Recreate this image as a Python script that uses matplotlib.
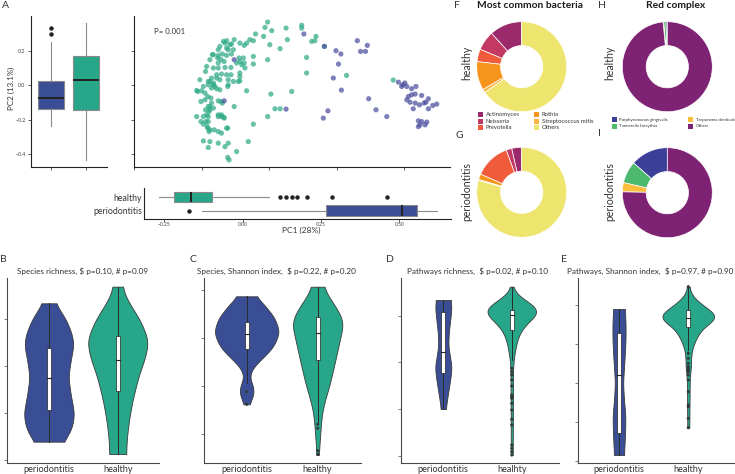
import numpy as np
import matplotlib
matplotlib.use("Agg")
import matplotlib.pyplot as plt
from matplotlib.patches import Rectangle

plt.rcParams['font.family'] = ['Lato', 'DejaVu Sans']

# ---------------- DATA ----------------
# Panel A: PCoA scores (PC1, PC2)
HEALTHY_PCOA = [
    (-0.006, 0.365), (-0.016, 0.334), (0.009, 0.315), (-0.051, 0.296), (-0.021, 0.282), (-0.072, 0.263),
    (-0.059, 0.257), (-0.084, 0.243), (-0.093, 0.230), (0.002, 0.234), (0.040, 0.211), (-0.130, 0.263),
    (-0.158, 0.257), (-0.164, 0.243), (-0.140, 0.238), (-0.183, 0.224), (-0.158, 0.214), (-0.189, 0.205),
    (-0.152, 0.205), (-0.211, 0.176), (-0.189, 0.172), (-0.174, 0.180), (-0.158, 0.172), (-0.140, 0.180),
    (-0.191, 0.157), (-0.179, 0.147), (-0.167, 0.137), (-0.112, 0.157), (-0.096, 0.157), (-0.059, 0.166),
    (-0.121, 0.128), (-0.102, 0.118), (-0.093, 0.128), (-0.059, 0.122), (-0.006, 0.147), (-0.232, 0.108),
    (-0.207, 0.099), (-0.189, 0.099), (-0.164, 0.102), (-0.142, 0.102), (-0.236, 0.079), (-0.177, 0.064),
    (-0.158, 0.060), (-0.142, 0.060), (-0.109, 0.050), (-0.214, 0.041), (-0.195, 0.041), (-0.183, 0.031),
    (-0.220, 0.021), (-0.207, 0.012), (-0.226, 0.002), (-0.244, -0.008), (-0.201, -0.008), (-0.214, -0.017),
    (-0.195, -0.021), (-0.154, -0.008), (-0.115, 0.021), (-0.109, 0.025), (-0.152, 0.031), (-0.265, -0.037),
    (-0.251, -0.033), (-0.238, -0.046), (-0.228, -0.066), (-0.216, -0.075), (-0.084, -0.033), (0.006, -0.052),
    (-0.253, -0.095), (-0.238, -0.085), (-0.214, -0.104), (-0.179, -0.095), (-0.174, -0.104), (-0.189, -0.091),
    (-0.130, -0.124), (0.021, -0.137), (0.040, -0.137), (-0.220, -0.124), (-0.207, -0.133), (-0.236, -0.143),
    (-0.223, -0.153), (-0.189, -0.172), (-0.177, -0.182), (-0.167, -0.191), (-0.232, -0.172), (-0.226, -0.182),
    (-0.269, -0.182), (-0.253, -0.211), (-0.226, -0.211), (-0.244, -0.226), (-0.228, -0.249), (-0.220, -0.259),
    (-0.223, -0.269), (-0.204, -0.259), (-0.189, -0.269), (-0.177, -0.278), (-0.154, -0.249), (-0.059, -0.226),
    (-0.006, -0.182), (-0.244, -0.323), (-0.220, -0.327), (-0.226, -0.361), (-0.189, -0.336), (-0.152, -0.336),
    (-0.078, -0.327), (-0.164, -0.356), (-0.121, -0.385), (-0.154, -0.419), (-0.149, -0.433),
    (-0.269, -0.031), (-0.257, 0.031), (-0.226, 0.021), (-0.207, 0.002), (-0.195, 0.060), (-0.226, -0.124),
    (-0.220, -0.143), (-0.244, -0.182), (-0.235, -0.211), (-0.230, -0.240), (-0.189, -0.182), (-0.177, -0.172),
    (-0.168, -0.186), (-0.158, -0.249), (-0.207, 0.176), (-0.189, 0.128), (-0.170, 0.253), (-0.146, 0.234),
    (-0.133, 0.205), (-0.109, 0.137), (-0.183, -0.027), (-0.152, 0.002), (-0.133, 0.021), (-0.109, 0.070),
    (-0.090, 0.099), (-0.109, 0.243), (-0.220, 0.147),
    (0.062, 0.330), (0.120, 0.346), (0.120, 0.330), (0.067, 0.263), (0.173, 0.282), (0.169, 0.257),
    (0.157, 0.253), (0.204, 0.224), (0.138, 0.160), (0.138, 0.070), (0.286, 0.056), (0.083, -0.037),
    (0.459, 0.029),
]
PERIO_PCOA = [
    (0.128, 0.296), (0.326, 0.257), (0.363, 0.230), (0.338, 0.195), (0.356, 0.195), (0.247, 0.199),
    (0.265, 0.180), (0.256, 0.122), (0.237, 0.041), (0.267, -0.029), (0.368, -0.079), (0.478, 0.017),
    (0.494, 0.002), (0.502, 0.012), (0.509, -0.008), (0.490, -0.008), (0.527, -0.021), (0.543, -0.008),
    (0.515, -0.066), (0.527, -0.056), (0.540, -0.052), (0.509, -0.085), (0.521, -0.099), (0.564, -0.060),
    (0.589, -0.079), (0.580, -0.099), (0.540, -0.104), (0.556, -0.114), (0.573, -0.104), (0.605, -0.118),
    (0.620, -0.110), (0.533, -0.137), (0.589, -0.137), (0.395, -0.143), (0.435, -0.182), (0.217, -0.149),
    (0.200, -0.191), (0.062, -0.139), (0.552, -0.207), (0.564, -0.211), (0.583, -0.214), (0.558, -0.230),
    (0.577, -0.230), (0.552, -0.240), (0.204, 0.224), (-0.130, 0.147), (-0.167, -0.091),
]
# Box statistics (q1, median, q3, whisker low, whisker high, fliers)
PC2_PERIO_BOX = (-0.137, -0.072, 0.023, -0.236, 0.247, [0.293, 0.332])
PC2_HEALTHY_BOX = (-0.145, 0.027, 0.166, -0.433, 0.357, [])
PC1_HEALTHY_BOX = (-0.218, -0.166, -0.097, -0.268, 0.083, [0.120, 0.137, 0.157, 0.172, 0.205, 0.286, 0.460])
PC1_PERIO_BOX = (0.266, 0.507, 0.555, -0.131, 0.619, [-0.171])
GROUPS = ['periodontitis', 'healthy']
PC2_TICKS = [-0.4, -0.2, 0.0, 0.2]
PC2_TICKLABELS = ['\u22120.4', '\u22120.2', '0.0', '0.2']
PC1_TICKS = [-0.25, 0.0, 0.25, 0.5]
PC1_TICKLABELS = ['\u22120.25', '0.00', '0.25', '0.50']

# Panels B-E: violin density profiles (value, relative density) + inner box stats (q1, med, q3, lo, hi)
B_PERIO_Y = [216.7, 209.6, 199.0, 183.0, 172.4, 156.4, 138.3, 119.2, 100.0, 87.2, 76.6, 69.5]
B_PERIO_D = [0.13, 0.22, 0.35, 0.47, 0.50, 0.44, 0.39, 0.44, 0.51, 0.48, 0.40, 0.28]
B_PERIO_BOX = (103.2, 136.9, 169.5, 69.5, 216.7)
B_HEALTHY_Y = [234.4, 223.4, 211.4, 199.0, 183.0, 175.9, 159.9, 138.6, 113.8, 92.6, 71.3, 56.4]
B_HEALTHY_D = [0.093, 0.16, 0.30, 0.45, 0.58, 0.617, 0.56, 0.417, 0.30, 0.227, 0.18, 0.17]
B_HEALTHY_BOX = (123.7, 156.4, 182.3, 56.4, 234.4)

C_PERIO_Y = [3.869, 3.688, 3.417, 3.131, 2.896, 2.750, 2.604, 2.438, 2.292, 2.167, 2.042, 1.917, 1.771, 1.619]
C_PERIO_D = [0.18, 0.35, 0.55, 0.64, 0.56, 0.47, 0.33, 0.17, 0.075, 0.06, 0.11, 0.147, 0.12, 0.05]
C_PERIO_BOX = (2.771, 3.077, 3.327, 2.056, 3.869)
C_PERIO_OUT = [1.881, 1.619]
C_HEALTHY_Y = [4.069, 3.854, 3.625, 3.458, 3.306, 2.958, 2.402, 1.985, 1.708, 1.431, 1.015, 0.75, 0.5625]
C_HEALTHY_D = [0.11, 0.22, 0.37, 0.46, 0.507, 0.433, 0.317, 0.223, 0.143, 0.083, 0.05, 0.035, 0.02]
C_HEALTHY_BOX = (2.542, 3.098, 3.431, 1.256, 4.069)
C_HEALTHY_OUT = [1.202, 1.119, 0.652, 0.577]

D_PERIO_Y = [533.4, 516.3, 490.6, 462.9, 437.2, 415.8, 390.2, 362.4, 330.4, 300.4]
D_PERIO_D = [0.15, 0.167, 0.14, 0.11, 0.10, 0.13, 0.17, 0.14, 0.09, 0.05]
D_PERIO_BOX = (378.0, 421.6, 508.4, 300.4, 533.4)
D_HEALTHY_Y = [561.8, 544.1, 527.0, 508.4, 487.0, 465.6, 444.3, 426.5, 405.2, 383.8, 202.1]
D_HEALTHY_D = [0.02, 0.067, 0.40, 0.62, 0.33, 0.167, 0.10, 0.07, 0.035, 0.025, 0.02]
D_HEALTHY_BOX = (469.3, 501.3, 512.0, 405.2, 561.8)
D_HEALTHY_OUT = [387.4, 380.1, 373.1, 362.4, 349.6, 330.4, 326.7, 323.3, 312.6, 298.3, 278.4, 266.2,
                 223.5, 216.5, 209.2, 202.1]

E_PERIO_Y = [3.897, 3.486, 3.057, 2.586, 1.995, 1.558, 1.129, 0.658, 0.144]
E_PERIO_D = [0.117, 0.133, 0.13, 0.11, 0.08, 0.10, 0.13, 0.12, 0.10]
E_PERIO_BOX = (0.717, 2.201, 3.272, 0.144, 3.897)
E_HEALTHY_Y = [4.470, 4.257, 4.0, 3.699, 3.401, 3.057, 2.843, 2.586, 2.380, 2.201, 1.558, 0.846]
E_HEALTHY_D = [0.02, 0.05, 0.28, 0.64, 0.27, 0.127, 0.07, 0.05, 0.06, 0.03, 0.025, 0.02]
E_HEALTHY_BOX = (3.442, 3.658, 3.871, 2.843, 4.470)
E_HEALTHY_OUT = [4.470, 2.758, 2.630, 2.501, 2.414, 2.373, 2.329, 2.285, 2.201, 2.072, 1.771, 1.429,
                 1.386, 1.087, 0.846]

B_TICKS = [50, 100, 150, 200]
C_TICKS = [1, 2, 3, 4]
D_TICKS = [200, 300, 400, 500]
E_TICKS = [0, 1, 2, 3, 4]

# Panels F-I: relative abundance (%)
BACT_NAMES = ['Actinomyces', 'Neisseria', 'Prevotella', 'Rothia', 'Streptococcus mitis', 'Others']
BACT_HEALTHY = [11.7, 7.0, 4.5, 10.3, 1.2, 65.3]
BACT_PERIO = [3.6, 2.0, 12.8, 2.0, 0.4, 79.2]
RED_NAMES = ['Porphyromonas gingivalis', 'Tannerella forsythia', 'Treponema denticola', 'Others']
RED_HEALTHY = [0.5, 0.8, 0.2, 98.5]
RED_PERIO = [13.5, 7.9, 3.3, 75.3]

# ---------------- STYLE ----------------
PERIO_C = '#3A4E95'
HEALTHY_C = '#27A68A'
SC_GREEN = '#2FAA86'
SC_BLUE = '#4B4E9F'
BACT_COLORS = ['#9B2A6C', '#C23A63', '#EF5B3B', '#F7941D', '#FBB540', '#EDE56D']
RED_COLORS = ['#3B3F98', '#4DB96E', '#FBBD3B', '#7E2274']
TXT = '#333333'

W, H = 735, 474
fig = plt.figure(figsize=(7.35, 4.74), dpi=100)


def rect(l, t, r, b):
    return [l / W, 1 - b / H, (r - l) / W, (b - t) / H]


def fx(x):
    return x / W


def fy(y):
    return 1 - y / H


def style_axes(ax, spine_c='#555555'):
    for s in ['top', 'right']:
        ax.spines[s].set_visible(False)
    for s in ['left', 'bottom']:
        ax.spines[s].set_color(spine_c)
        ax.spines[s].set_linewidth(0.8)
    ax.tick_params(length=2.2, width=0.5, color=spine_c, pad=1.5)


def box_stats(b):
    q1, med, q3, lo, hi, fl = b
    return dict(q1=q1, med=med, q3=q3, whislo=lo, whishi=hi, fliers=fl)


box_kw = dict(patch_artist=True, showcaps=False,
              boxprops=dict(edgecolor='#8a8a8a', linewidth=0.8),
              medianprops=dict(color='#222222', linewidth=1.4),
              whiskerprops=dict(color='#8a8a8a', linewidth=0.8),
              flierprops=dict(marker='o', markerfacecolor='#222222', markeredgecolor='none', markersize=3.2))

# ---- Panel A: left box (PC2) ----
axL = fig.add_axes(rect(30.7, 16, 107, 167))
bp = axL.bxp([box_stats(PC2_PERIO_BOX), box_stats(PC2_HEALTHY_BOX)], positions=[1, 2], widths=0.74, **box_kw)
for patch, c in zip(bp['boxes'], [PERIO_C, HEALTHY_C]):
    patch.set_facecolor(c)
axL.set_xlim(0.42, 2.6)
axL.set_ylim(-0.474, 0.40)
axL.set_xticks([1, 2])
axL.set_xticklabels([])
axL.set_yticks(PC2_TICKS)
axL.set_yticklabels(PC2_TICKLABELS, fontsize=3.8, color='#444444')
style_axes(axL, '#222222')
fig.text(fx(11), fy(88), 'PC2 (13.1%)', rotation=90, ha='center', va='center', fontsize=5.8, color=TXT)

# ---- Panel A: scatter ----
axS = fig.add_axes(rect(133.7, 16, 450, 167))
hp = np.array(HEALTHY_PCOA)
pp = np.array(PERIO_PCOA)
axS.scatter(hp[:, 0], hp[:, 1], s=14, color=SC_GREEN, alpha=0.72, edgecolors='none')
axS.scatter(pp[:, 0], pp[:, 1], s=14, color=SC_BLUE, alpha=0.72, edgecolors='none')
axS.set_xlim(-0.502, 0.669)
axS.set_ylim(-0.474, 0.40)
axS.set_xticks([-0.5, -0.25, 0, 0.25, 0.5])
axS.set_xticklabels([])
axS.set_yticks(PC2_TICKS)
axS.set_yticklabels([])
style_axes(axS, '#222222')
fig.text(fx(154), fy(31.7), 'P= 0.001', ha='left', va='center', fontsize=5.6, color=TXT)

# ---- Panel A: bottom box (PC1) ----
axB = fig.add_axes(rect(144.3, 188, 450.7, 219))
hb = [box_stats(PC1_PERIO_BOX), box_stats(PC1_HEALTHY_BOX)]
try:
    bp2 = axB.bxp(hb, positions=[1, 2], widths=0.78, orientation='horizontal', **box_kw)
except TypeError:
    bp2 = axB.bxp(hb, positions=[1, 2], widths=0.78, vert=False, **box_kw)
for patch, c in zip(bp2['boxes'], [PERIO_C, HEALTHY_C]):
    patch.set_facecolor(c)
axB.set_ylim(0.38, 2.69)
axB.set_xlim(-0.314, 0.664)
axB.set_yticks([1, 2])
axB.set_yticklabels(GROUPS, fontsize=6.3, color=TXT)
axB.set_xticks(PC1_TICKS)
axB.set_xticklabels(PC1_TICKLABELS, fontsize=3.6, color='#444444')
style_axes(axB, '#222222')
axB.tick_params(axis='y', length=0)
axB.tick_params(axis='x', pad=0.6, length=1.8)
fig.text(fx(301), fy(230.5), 'PC1 (28%)', ha='center', va='center', fontsize=6.0, color=TXT)


# ---- Panels B-E: violins ----
def smooth_profile(ys, ds, n=300, frac=0.035):
    ys = np.asarray(ys, float)
    ds = np.asarray(ds, float)
    o = np.argsort(ys)
    ys, ds = ys[o], ds[o]
    g = np.linspace(ys[0], ys[-1], n)
    d = np.interp(g, ys, ds)
    sig = max(1.0, frac * n)
    k = np.arange(-int(3 * sig), int(3 * sig) + 1)
    ker = np.exp(-0.5 * (k / sig) ** 2)
    ker /= ker.sum()
    pad = len(k) // 2
    dp = np.concatenate([np.full(pad, d[0]), d, np.full(pad, d[-1])])
    ds2 = np.convolve(dp, ker, mode='valid')
    return g, ds2


def violin(ax, pos, ys, ds, color, box, outliers=None, scale=0.72, bw=0.06):
    g, d = smooth_profile(ys, ds)
    half = d * scale
    ax.fill_betweenx(g, pos - half, pos + half, facecolor=color, edgecolor='#3a3a3a', linewidth=0.6, zorder=1)
    q1, med, q3, lo, hi = box
    ax.plot([pos, pos], [lo, hi], color='#2a2a2a', linewidth=0.7, zorder=2)
    ax.add_patch(Rectangle((pos - bw / 2, q1), bw, q3 - q1, facecolor='white', edgecolor='#222222',
                           linewidth=0.5, zorder=3))
    ax.plot([pos - bw / 2, pos + bw / 2], [med, med], color='#222222', linewidth=0.8, zorder=4)
    if outliers:
        ax.scatter([pos] * len(outliers), outliers, s=5, color='#2f3a3a', edgecolors='none', zorder=5)


def violin_panel(px, xlim, ylim, ticks, labels, groups):
    ax = fig.add_axes(rect(*px))
    for i, gdef in enumerate(groups):
        violin(ax, i, *gdef)
    ax.set_xlim(*xlim)
    ax.set_ylim(*ylim)
    ax.set_yticks(ticks)
    ax.set_yticklabels([])
    ax.set_xticks([0, 1])
    ax.set_xticklabels(labels, fontsize=6.6, color=TXT)
    style_axes(ax, '#4a4a4a')
    ax.tick_params(axis='x', length=0, pad=1.2)
    ax.tick_params(axis='y', length=2.5)
    return ax


violin_panel((7, 278, 159, 463), (-0.61, 1.6), (46.8, 243.6), B_TICKS, ['periodontitis', 'healthy'],
             [(B_PERIO_Y, B_PERIO_D, PERIO_C, B_PERIO_BOX, None),
              (B_HEALTHY_Y, B_HEALTHY_D, HEALTHY_C, B_HEALTHY_BOX, None)])
violin_panel((203.5, 278, 360.7, 463.3), (-0.608, 1.606), (0.39, 4.25), C_TICKS, ['periodontitis', 'healthy'],
             [(C_PERIO_Y, C_PERIO_D, PERIO_C, C_PERIO_BOX, C_PERIO_OUT),
              (C_HEALTHY_Y, C_HEALTHY_D, HEALTHY_C, C_HEALTHY_BOX, C_HEALTHY_OUT)])
violin_panel((401, 278, 559, 463.3), (-0.618, 1.69), (184.4, 580.4), D_TICKS, ['periodontitis', 'healhty'],
             [(D_PERIO_Y, D_PERIO_D, PERIO_C, D_PERIO_BOX, None),
              (D_HEALTHY_Y, D_HEALTHY_D, HEALTHY_C, D_HEALTHY_BOX, D_HEALTHY_OUT)])
violin_panel((577.5, 278, 735, 463.3), (-0.599, 1.674), (-0.069, 4.694), E_TICKS, ['periodontitis', 'healthy'],
             [(E_PERIO_Y, E_PERIO_D, PERIO_C, E_PERIO_BOX, None),
              (E_HEALTHY_Y, E_HEALTHY_D, HEALTHY_C, E_HEALTHY_BOX, E_HEALTHY_OUT)])

titles = [(17.3, 'Species richness, \\$ p=0.10, # p=0.09'),
          (196.7, 'Species, Shannon index,  \\$ p=0.22, # p=0.20'),
          (407.3, 'Pathways richness,  \\$ p=0.02, # p=0.10'),
          (566.7, 'Pathways, Shannon index,  \\$ p=0.97, # p=0.90')]
for x, t in titles:
    fig.text(fx(x), fy(271.5), t, ha='left', va='center', fontsize=5.9, color=TXT)


# ---- Panels F-I: donuts ----
def donut(cx, cy, vals, colors, r=45):
    ax = fig.add_axes(rect(cx - r, cy - r, cx + r, cy + r))
    ax.pie(vals, colors=colors, startangle=90, counterclock=True, radius=1,
           wedgeprops=dict(width=0.53, edgecolor='white', linewidth=0.5))
    ax.set_xlim(-1, 1)
    ax.set_ylim(-1, 1)
    ax.set_aspect('equal')
    ax.axis('off')


donut(521.7, 66.7, BACT_HEALTHY, BACT_COLORS)
donut(521.7, 192.3, BACT_PERIO, BACT_COLORS)
donut(667.3, 66.7, RED_HEALTHY, RED_COLORS)
donut(667.3, 192.7, RED_PERIO, RED_COLORS)

fig.text(fx(530), fy(5.5), 'Most common bacteria', ha='center', va='center', fontsize=7.4,
         fontweight='bold', color='#1a1a1a')
fig.text(fx(675.7), fy(5.5), 'Red complex', ha='center', va='center', fontsize=7.4,
         fontweight='bold', color='#1a1a1a')
for x, y, t in [(466.7, 63, 'healthy'), (466.7, 191.7, 'periodontitis'),
                (610, 63, 'healthy'), (610, 191.7, 'periodontitis')]:
    fig.text(fx(x), fy(y), t, rotation=90, ha='center', va='center', fontsize=7.6, color=TXT)


def legend_items(names, colors, cols_x, rows_y, size, fs):
    i = 0
    for cxx in cols_x:
        for ry in rows_y:
            if i >= len(names):
                break
            fig.add_artist(Rectangle((fx(cxx), fy(ry + size / 2)), size / W, size / H,
                                     facecolor=colors[i], edgecolor='none', transform=fig.transFigure))
            fig.text(fx(cxx + size + 2.5), fy(ry), names[i], ha='left', va='center', fontsize=fs, color=TXT)
            i += 1


legend_items(BACT_NAMES, BACT_COLORS, [478, 534], [114.7, 121.2, 127.6], 5, 4.3)
legend_items(RED_NAMES, RED_COLORS, [611.7, 688], [119.7, 126.3], 5, 3.2)

# ---- Panel letters ----
for x, y, t in [(5, 5, 'A'), (3, 259, 'B'), (193, 259, 'C'), (390, 259, 'D'), (563.5, 259, 'E'),
                (456.7, 5, 'F'), (459, 135, 'G'), (602.3, 5, 'H'), (599.3, 133.3, 'I')]:
    fig.text(fx(x), fy(y), t, ha='center', va='center', fontsize=7.5, color='#333333')

fig.savefig('out.png', dpi=100)
